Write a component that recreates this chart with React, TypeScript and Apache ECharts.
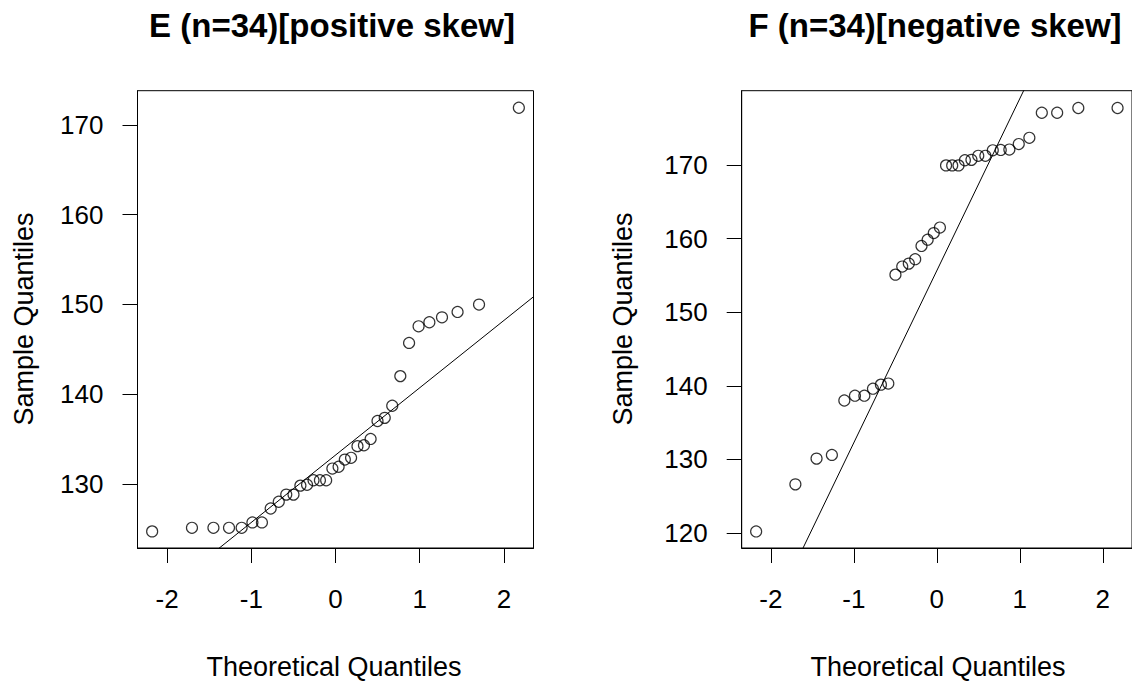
import React, { useEffect, useRef } from "react";
import * as echarts from "echarts";

// Theoretical normal quantiles for n = 34 (shared by both panels)
const theoQ = [
  -2.178, -1.705, -1.45, -1.265, -1.115, -0.987, -0.874, -0.77, -0.674, -0.585,
  -0.499, -0.417, -0.338, -0.261, -0.185, -0.111, -0.037, 0.037, 0.111, 0.185,
  0.261, 0.338, 0.417, 0.499, 0.585, 0.674, 0.77, 0.874, 0.987, 1.115, 1.265,
  1.45, 1.705, 2.178,
];

// Sample quantiles (sorted)
const sampleE = [
  124.7, 125.1, 125.1, 125.1, 125.1, 125.7, 125.7, 127.25, 128.0, 128.8,
  128.8, 129.8, 129.9, 130.4, 130.4, 130.4, 131.7, 131.9, 132.7, 132.9,
  134.2, 134.3, 135.0, 137.0, 137.35, 138.7, 142.0, 145.7, 147.55, 148.0,
  148.55, 149.15, 149.97, 171.9,
];
const sampleF = [
  120.2, 126.6, 130.1, 130.6, 138.0, 138.65, 138.65, 139.6, 140.15, 140.3,
  155.1, 156.2, 156.6, 157.2, 159.0, 159.85, 160.75, 161.5, 169.95, 169.95,
  169.95, 170.65, 170.7, 171.25, 171.25, 172.0, 172.05, 172.1, 172.85, 173.7,
  177.1, 177.1, 177.75, 177.75,
];

// Reference (qqline) endpoints
const qqLineE = [
  [-2.4, 115.2],
  [2.4, 151.2],
];
const qqLineF = [
  [-2.4, 99.54],
  [2.4, 211.76],
];

const xTicks = [-2, -1, 0, 1, 2];
const yTicksE = [130, 140, 150, 160, 170];
const yTicksF = [120, 130, 140, 150, 160, 170];

const titles = ["E (n=34)[positive skew]", "F (n=34)[negative skew]"];
const xName = "Theoretical Quantiles";
const yName = "Sample Quantiles";

const FONT = "'Liberation Sans', Arial, sans-serif";

export default function App() {
  const ref = useRef<HTMLDivElement>(null);

  useEffect(() => {
    if (!ref.current) return;
    const chart = echarts.init(ref.current, undefined, { renderer: "svg" });

    const xAxisBase = (gridIndex: number) => ({
      type: "value",
      gridIndex,
      min: -2.352,
      max: 2.352,
      splitLine: { show: false },
      axisLine: { show: true, onZero: false, lineStyle: { color: "#000", width: 1 } },
      axisTick: {
        show: true,
        inside: false,
        length: 15,
        customValues: xTicks,
        lineStyle: { color: "#000", width: 1 },
      },
      axisLabel: {
        customValues: xTicks,
        margin: 38,
        color: "#000",
        fontSize: 26,
        fontFamily: FONT,
      },
    });

    const yAxisBase = (gridIndex: number, min: number, max: number, ticks: number[]) => ({
      type: "value",
      gridIndex,
      min,
      max,
      splitLine: { show: false },
      axisLine: { show: true, onZero: false, lineStyle: { color: "#000", width: 1 } },
      axisTick: {
        show: true,
        inside: false,
        length: 15,
        customValues: ticks,
        lineStyle: { color: "#000", width: 1 },
      },
      axisLabel: {
        customValues: ticks,
        margin: 34,
        color: "#000",
        fontSize: 26,
        fontFamily: FONT,
      },
    });

    const scatterStyle = {
      symbol: "circle",
      symbolSize: 11,
      itemStyle: { color: "rgba(0,0,0,0)", borderColor: "#000", borderWidth: 1.2 },
      emphasis: { disabled: true },
    };
    const lineStyle = {
      showSymbol: false,
      symbol: "none",
      clip: true,
      lineStyle: { color: "#000", width: 1 },
      emphasis: { disabled: true },
    };

    const textStyle = (size: number, bold = false) => ({
      fill: "#000",
      font: `${bold ? "bold " : ""}${size}px ${FONT}`,
      textAlign: "center",
      textVerticalAlign: "middle",
    });

    chart.setOption({
      animation: false,
      backgroundColor: "#fff",
      grid: [
        {
          left: 137.5,
          top: 90.7,
          width: 396,
          height: 457.3,
          show: true,
          borderColor: "#000",
          borderWidth: 1,
          backgroundColor: "transparent",
        },
        {
          left: 741.7,
          top: 90.7,
          width: 394,
          height: 457.3,
          show: true,
          borderColor: "#000",
          borderWidth: 1,
          backgroundColor: "transparent",
        },
      ],
      xAxis: [xAxisBase(0), xAxisBase(1)],
      yAxis: [
        yAxisBase(0, 122.85, 173.8, yTicksE),
        yAxisBase(1, 117.95, 180.1, yTicksF),
      ],
      series: [
        {
          type: "scatter",
          xAxisIndex: 0,
          yAxisIndex: 0,
          data: theoQ.map((q, i) => [q, sampleE[i]]),
          ...scatterStyle,
        },
        {
          type: "line",
          xAxisIndex: 0,
          yAxisIndex: 0,
          data: qqLineE,
          ...lineStyle,
        },
        {
          type: "scatter",
          xAxisIndex: 1,
          yAxisIndex: 1,
          data: theoQ.map((q, i) => [q, sampleF[i]]),
          ...scatterStyle,
        },
        {
          type: "line",
          xAxisIndex: 1,
          yAxisIndex: 1,
          data: qqLineF,
          ...lineStyle,
        },
      ],
      graphic: [
        { type: "text", x: 332, y: 25, style: { text: titles[0], ...textStyle(33, true) } },
        { type: "text", x: 935, y: 25, style: { text: titles[1], ...textStyle(33, true) } },
        { type: "text", x: 334, y: 667, style: { text: xName, ...textStyle(27) } },
        { type: "text", x: 938, y: 667, style: { text: xName, ...textStyle(27) } },
        {
          type: "text",
          x: 24,
          y: 319,
          rotation: Math.PI / 2,
          style: { text: yName, ...textStyle(27) },
        },
        {
          type: "text",
          x: 623,
          y: 319,
          rotation: Math.PI / 2,
          style: { text: yName, ...textStyle(27) },
        },
      ],
    });

    return () => chart.dispose();
  }, []);

  return (
    <div
      ref={ref}
      style={{ position: "fixed", left: 0, top: 0, width: 1132, height: 683, background: "#fff" }}
    />
  );
}
